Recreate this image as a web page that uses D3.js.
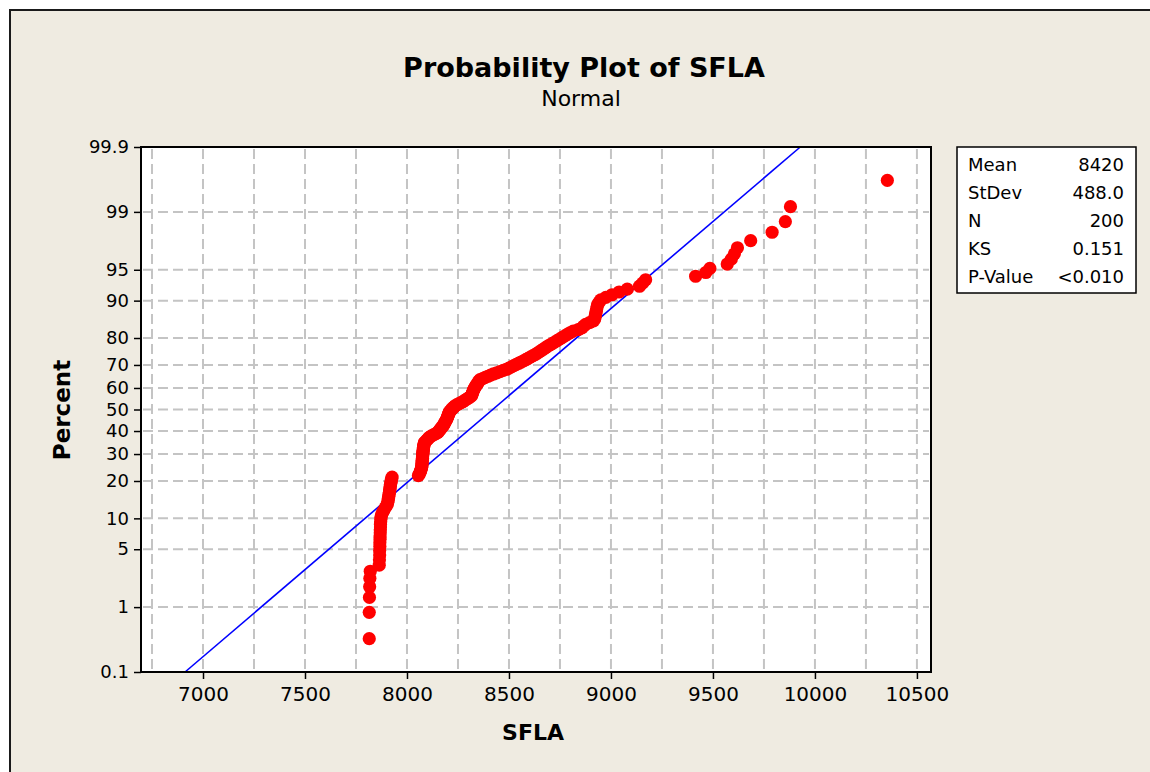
<!DOCTYPE html>
<html>
<head>
<meta charset="utf-8">
<title>Probability Plot of SFLA</title>
<script src="https://cdn.jsdelivr.net/npm/d3@7"></script>
<style>
  body { margin: 0; background: #fff; }
  svg { display: block; }
  text { font-family: Tahoma, "DejaVu Sans", sans-serif; fill: #000; }
</style>
</head>
<body>
<svg id="chart"></svg>
<script>
// sorted SFLA values (N = 200)
const sfla = [
  7815, 7815, 7816, 7817, 7818, 7820,
  7864, 7865, 7866, 7866, 7867, 7867, 7868, 7868, 7869, 7869, 7870, 7870, 7871, 7872, 7873,
  7876, 7881, 7887, 7893, 7899, 7904,
  7906, 7908, 7909, 7911, 7912, 7913, 7915, 7916, 7917, 7918, 7919, 7921, 7922, 7923, 7925, 7927,
  8056, 8060, 8063, 8066, 8068, 8070, 8072,
  8073, 8073, 8074, 8074, 8075, 8075, 8076, 8076, 8077, 8077, 8078, 8078,
  8079, 8080, 8080, 8081, 8082, 8083, 8084, 8085,
  8090, 8096, 8101, 8106, 8111,
  8120, 8130, 8140, 8150,
  8155, 8159, 8163, 8167, 8171, 8176,
  8179, 8182, 8185, 8188, 8191, 8194,
  8196, 8198, 8200, 8202, 8204, 8206, 8208, 8211,
  8216, 8221, 8226, 8231, 8236,
  8245, 8255, 8265, 8275,
  8283, 8291, 8299, 8307, 8315,
  8317, 8319, 8321, 8323, 8325, 8327, 8330, 8333,
  8336, 8340, 8343, 8347, 8350, 8354, 8358,
  8371, 8384, 8397, 8410, 8424,
  8440, 8456, 8472, 8488,
  8500, 8512, 8524, 8536, 8548, 8560,
  8572, 8584, 8596, 8607, 8618, 8630,
  8640, 8650, 8660, 8670, 8680, 8690,
  8702, 8714, 8726, 8738, 8750,
  8762, 8774, 8786, 8799,
  8815, 8840, 8858, 8866, 8876, 8895, 8915, 8920, 8922, 8924, 8926, 8928,
  8930, 8932, 8935, 8942, 8950, 8975, 9005, 9040, 9080, 9140, 9155, 9170,
  9415, 9465, 9485, 9570, 9590, 9605, 9620, 9685, 9790, 9855, 9880, 10355
];

const mean = 8420;
const stdev = 488.0;

const percentTicks = [0.1, 1, 5, 10, 20, 30, 40, 50, 60, 70, 80, 90, 95, 99, 99.9];
const xTicks = [7000, 7500, 8000, 8500, 9000, 9500, 10000, 10500];
const xGrid = [6750, 7000, 7250, 7500, 7750, 8000, 8250, 8500, 8750, 9000, 9250, 9500, 9750, 10000, 10250, 10500];

const statLabels = ['Mean', 'StDev', 'N', 'KS', 'P-Value'];
const statValues = ['8420', '488.0', '200', '0.151', '<0.010'];

// inverse of the standard normal cdf (Acklam)
function probit(p) {
  const a = [-39.69683028665376, 220.9460984245205, -275.9285104469687, 138.3577518672690, -30.66479806614716, 2.506628277459239];
  const b = [-54.47609879822406, 161.5858368580409, -155.6989798598866, 66.80131188771972, -13.28068155288572];
  const c = [-0.007784894002430293, -0.3223964580411365, -2.400758277161838, -2.549732539343734, 4.374664141464968, 2.938163982698783];
  const d = [0.007784695709041462, 0.3224671290700398, 2.445134137142996, 3.754408661907416];
  const pl = 0.02425;
  let q, r;
  if (p < pl) {
    q = Math.sqrt(-2 * Math.log(p));
    return (((((c[0]*q + c[1])*q + c[2])*q + c[3])*q + c[4])*q + c[5]) / ((((d[0]*q + d[1])*q + d[2])*q + d[3])*q + 1);
  }
  if (p > 1 - pl) {
    q = Math.sqrt(-2 * Math.log(1 - p));
    return -(((((c[0]*q + c[1])*q + c[2])*q + c[3])*q + c[4])*q + c[5]) / ((((d[0]*q + d[1])*q + d[2])*q + d[3])*q + 1);
  }
  q = p - 0.5; r = q * q;
  return (((((a[0]*r + a[1])*r + a[2])*r + a[3])*r + a[4])*r + a[5])*q / (((((b[0]*r + b[1])*r + b[2])*r + b[3])*r + b[4])*r + 1);
}

const W = 1150, H = 772;
const plot = { left: 141, right: 931, top: 147, bottom: 672 };

const svg = d3.select('#chart').attr('width', W).attr('height', H);

// beige graph region with frame
svg.append('rect')
  .attr('x', 10).attr('y', 10)
  .attr('width', W + 20).attr('height', H + 20)
  .style('fill', '#EFEBE1')
  .style('stroke', '#1a1a1a')
  .style('stroke-width', 2);

const x = d3.scaleLinear().domain([6696, 10569]).range([plot.left, plot.right]);
const y = d3.scaleLinear().domain([probit(0.001), probit(0.999)]).range([plot.bottom, plot.top]);
const yPct = p => y(probit(p / 100));

svg.append('rect')
  .attr('x', plot.left).attr('y', plot.top)
  .attr('width', plot.right - plot.left).attr('height', plot.bottom - plot.top)
  .style('fill', '#fff');

// grid
const grid = svg.append('g')
  .style('stroke', '#C4C4C4')
  .style('stroke-width', 2)
  .style('stroke-dasharray', '10,5');

grid.selectAll('.vg').data(xGrid).enter().append('line')
  .attr('x1', d => x(d)).attr('x2', d => x(d))
  .attr('y1', plot.top + 2).attr('y2', plot.bottom - 2);

grid.selectAll('.hg').data(percentTicks.slice(1, -1)).enter().append('line')
  .attr('x1', plot.left + 2).attr('x2', plot.right - 2)
  .attr('y1', d => yPct(d)).attr('y2', d => yPct(d));

// fitted normal line
const fitLine = d3.line()
  .x(p => x(mean + stdev * probit(p / 100)))
  .y(p => yPct(p));

svg.append('path')
  .attr('d', fitLine([0.1, 99.9]))
  .style('stroke', '#0000FF')
  .style('stroke-width', 1.6)
  .style('fill', 'none');

// points at median ranks
const n = sfla.length;
svg.append('g').selectAll('circle').data(sfla).enter().append('circle')
  .attr('cx', d => x(d))
  .attr('cy', (d, i) => y(probit((i + 1 - 0.3) / (n + 0.4))))
  .attr('r', 6.6)
  .style('fill', '#FF0000');

// frame
svg.append('rect')
  .attr('x', plot.left).attr('y', plot.top)
  .attr('width', plot.right - plot.left).attr('height', plot.bottom - plot.top)
  .style('fill', 'none')
  .style('stroke', '#000')
  .style('stroke-width', 2);

// axes
const xAxis = d3.axisBottom(x).tickValues(xTicks).tickSize(7).tickPadding(8).tickFormat(d3.format('d'));
const gx = svg.append('g').attr('transform', `translate(0,${plot.bottom})`).call(xAxis);
gx.select('.domain').remove();
gx.selectAll('line').style('stroke', '#000').style('stroke-width', 1.5);
gx.selectAll('text').style('font-size', '20px').style('font-family', 'Tahoma, "DejaVu Sans", sans-serif');

const yAxis = d3.axisLeft(y)
  .tickValues(percentTicks.map(p => probit(p / 100)))
  .tickFormat((d, i) => percentTicks[i])
  .tickSize(7).tickPadding(5);
const gy = svg.append('g').attr('transform', `translate(${plot.left},0)`).call(yAxis);
gy.select('.domain').remove();
gy.selectAll('line').style('stroke', '#000').style('stroke-width', 1.5);
gy.selectAll('text').style('font-size', '18px').style('font-family', 'Tahoma, "DejaVu Sans", sans-serif');

// titles
svg.append('text')
  .attr('x', 584).attr('y', 77)
  .attr('text-anchor', 'middle')
  .style('font-size', '27px').style('font-weight', 'bold')
  .text('Probability Plot of SFLA');

svg.append('text')
  .attr('x', 581).attr('y', 106)
  .attr('text-anchor', 'middle')
  .style('font-size', '22px')
  .text('Normal');

svg.append('text')
  .attr('x', 533).attr('y', 740)
  .attr('text-anchor', 'middle')
  .style('font-size', '22px').style('font-weight', 'bold')
  .text('SFLA');

svg.append('text')
  .attr('transform', 'translate(70,410) rotate(-90)')
  .attr('text-anchor', 'middle')
  .style('font-size', '23px').style('font-weight', 'bold')
  .text('Percent');

// statistics box
const box = { x: 957, y: 147, w: 179, h: 146 };
svg.append('rect')
  .attr('x', box.x).attr('y', box.y)
  .attr('width', box.w).attr('height', box.h)
  .style('fill', '#fff')
  .style('stroke', '#000')
  .style('stroke-width', 1.5);

const rowY = d3.scalePoint().domain(statLabels).range([box.y + 24, box.y + 136]);

svg.append('g').selectAll('text').data(statLabels).enter().append('text')
  .attr('x', box.x + 11)
  .attr('y', d => rowY(d))
  .style('font-size', '18px')
  .text(d => d);

svg.append('g').selectAll('text').data(statValues).enter().append('text')
  .attr('x', box.x + box.w - 12)
  .attr('y', (d, i) => rowY(statLabels[i]))
  .attr('text-anchor', 'end')
  .style('font-size', '18px')
  .text(d => d);
</script>
</body>
</html>
